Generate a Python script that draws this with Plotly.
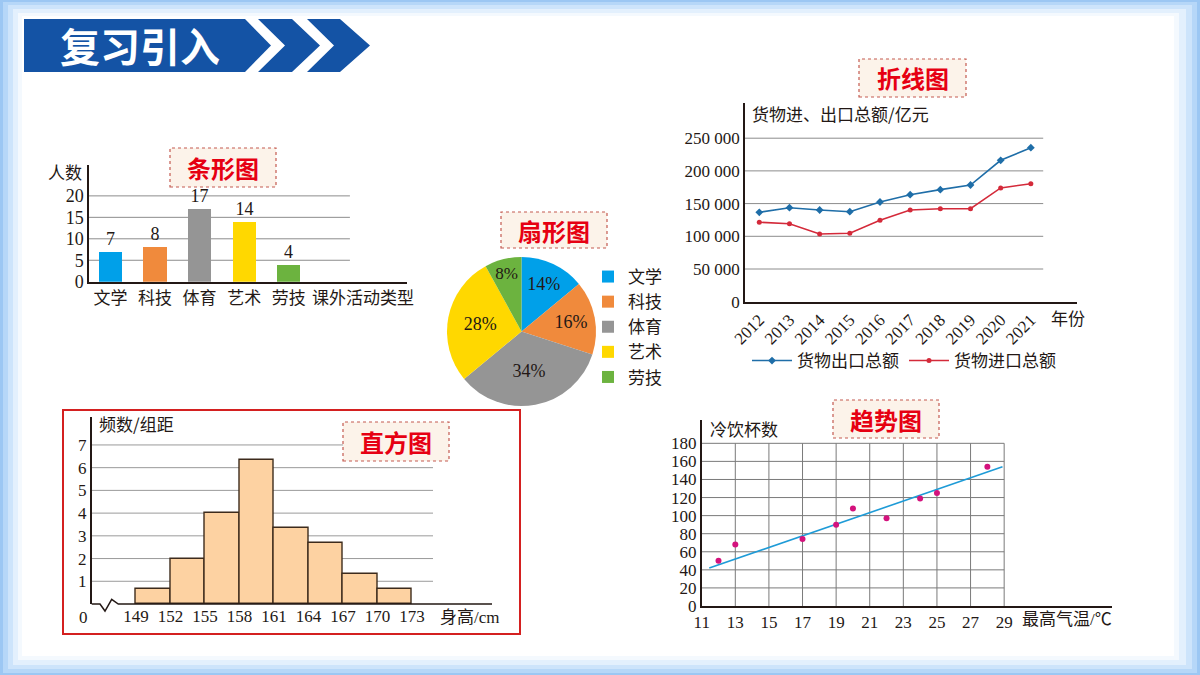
import plotly.graph_objects as go

W, H = 1200, 675


def fx(p):
    return p / W


def fy(p):
    return 1 - p / H


# ---------------- data ----------------
bar_categories = ["文学", "科技", "体育", "艺术", "劳技"]
bar_values = [7, 8, 17, 14, 4]
bar_colors = ["#00a0e9", "#f08a3c", "#959595", "#ffd800", "#6cb33f"]
bar_yticks = [0, 5, 10, 15, 20]

pie_labels = ["文学", "科技", "体育", "艺术", "劳技"]
pie_values = [14, 16, 34, 28, 8]

years = [2012, 2013, 2014, 2015, 2016, 2017, 2018, 2019, 2020, 2021]
export_values = [136700, 143700, 140200, 137600, 152400, 163600, 171300, 178400, 216200, 235500]
import_values = [121400, 119300, 103500, 104600, 124500, 140200, 142200, 142200, 173900, 180400]
line_yticks = [0, 50000, 100000, 150000, 200000, 250000]
line_yticklabels = ["0", "50 000", "100 000", "150 000", "200 000", "250 000"]

hist_edges = [149, 152, 155, 158, 161, 164, 167, 170, 173]
hist_heights = [0.67, 2, 4, 6.33, 3.33, 2.67, 1.33, 0.67]
hist_yticks = [1, 2, 3, 4, 5, 6, 7]

trend_temp = [12, 13, 17, 19, 20, 22, 24, 25, 28]
trend_cups = [50, 68, 74, 90, 108, 97, 119, 125, 154]
trend_line_x = [11.45, 28.9]
trend_line_y = [42, 154]
trend_xticks = [11, 13, 15, 17, 19, 21, 23, 25, 27, 29]
trend_yticks = [0, 20, 40, 60, 80, 100, 120, 140, 160, 180]

# ---------------- styling ----------------
SERIF = "Liberation Serif, Noto Sans CJK SC, serif"
CJK = "Noto Sans CJK SC, sans-serif"
INK = "#231815"

fig = go.Figure()

# bar chart
fig.add_trace(go.Bar(
    x=list(range(len(bar_categories))), y=bar_values, width=0.52,
    marker=dict(color=bar_colors, line=dict(width=0)),
    text=[str(v) for v in bar_values], textposition="outside",
    textfont=dict(size=18, color=INK, family=SERIF), cliponaxis=False,
    xaxis="x", yaxis="y", showlegend=False, hoverinfo="skip"))

# pie chart
fig.add_trace(go.Pie(
    labels=pie_labels, values=pie_values, sort=False, direction="clockwise", rotation=0,
    marker=dict(colors=bar_colors, line=dict(width=0)),
    textinfo="percent", textposition="inside", insidetextorientation="horizontal",
    textfont=dict(size=18, color=INK, family=SERIF),
    domain=dict(x=[fx(447), fx(596)], y=[fy(406), fy(257)]),
    legend="legend", showlegend=True, hoverinfo="skip"))

# line chart
fig.add_trace(go.Scatter(
    x=years, y=export_values, mode="lines+markers", name="货物出口总额",
    line=dict(color="#1f6ea8", width=1.6), marker=dict(symbol="diamond", size=6, color="#1f6ea8"),
    xaxis="x2", yaxis="y2", legend="legend2", hoverinfo="skip"))
fig.add_trace(go.Scatter(
    x=years, y=import_values, mode="lines+markers", name="货物进口总额",
    line=dict(color="#d42a3a", width=1.6), marker=dict(symbol="circle", size=5, color="#d42a3a"),
    xaxis="x2", yaxis="y2", legend="legend2", hoverinfo="skip"))

# histogram
hist_centers = [(a + b) / 2 for a, b in zip(hist_edges[:-1], hist_edges[1:])]
fig.add_trace(go.Bar(
    x=hist_centers, y=hist_heights, width=3,
    marker=dict(color="#fdd2a2", line=dict(color="#3d2b1c", width=1.4)),
    xaxis="x3", yaxis="y3", showlegend=False, hoverinfo="skip"))

# trend chart
fig.add_trace(go.Scatter(
    x=trend_line_x, y=trend_line_y, mode="lines",
    line=dict(color="#1e9bd7", width=1.6),
    xaxis="x4", yaxis="y4", showlegend=False, hoverinfo="skip"))
fig.add_trace(go.Scatter(
    x=trend_temp, y=trend_cups, mode="markers",
    marker=dict(color="#d4127d", size=6),
    xaxis="x4", yaxis="y4", showlegend=False, hoverinfo="skip"))

axis_common = dict(showgrid=False, zeroline=False, ticks="", showline=True, automargin=False,
                   linecolor=INK, linewidth=1.5, fixedrange=True)

fig.update_layout(
    template="none",
    width=W, height=H, margin=dict(l=0, r=0, t=0, b=0, pad=0, autoexpand=False),
    paper_bgcolor="#9cc7f3", plot_bgcolor="rgba(0,0,0,0)",
    font=dict(family=SERIF, color=INK, size=17),
    xaxis=dict(axis_common, domain=[fx(89), fx(407)], range=[-0.48, 6.65],
               tickvals=list(range(len(bar_categories))), ticktext=bar_categories,
               tickfont=dict(size=17, family=CJK), anchor="y"),
    yaxis=dict(axis_common, domain=[fy(281.7), fy(165)], range=[0, 27.2],
               tickvals=bar_yticks, tickfont=dict(size=18), anchor="x"),
    xaxis2=dict(axis_common, domain=[fx(745), fx(1077)], range=[2011.526, 2022.53],
                tickvals=years, tickangle=-45, tickfont=dict(size=17), anchor="y2"),
    yaxis2=dict(axis_common, domain=[fy(301.7), fy(103)], range=[0, 303800],
                tickvals=line_yticks, ticktext=line_yticklabels, tickfont=dict(size=17), anchor="x2"),
    xaxis3=dict(axis_common, showline=False, domain=[fx(91.7), fx(492)], range=[145.15, 179.96],
                tickvals=hist_edges, tickfont=dict(size=17), anchor="y3"),
    yaxis3=dict(axis_common, domain=[fy(604), fy(417)], range=[0, 8.23],
                tickvals=hist_yticks, tickfont=dict(size=17), anchor="x3"),
    xaxis4=dict(axis_common, domain=[fx(701.7), fx(1111.7)], range=[11, 35.4],
                tickvals=trend_xticks, tickfont=dict(size=17), anchor="y4"),
    yaxis4=dict(axis_common, domain=[fy(606), fy(420)], range=[0, 205.8],
                tickvals=trend_yticks, tickfont=dict(size=17), anchor="x4"),
    legend=dict(x=fx(588), y=fy(259), xanchor="left", yanchor="top",
                font=dict(size=17, family=CJK), bgcolor="rgba(0,0,0,0)",
                itemwidth=30, tracegroupgap=0),
    legend2=dict(orientation="h", x=fx(747), y=fy(343), xanchor="left", yanchor="top",
                 font=dict(size=17, family=CJK), bgcolor="rgba(0,0,0,0)", itemwidth=40),
    bargap=0,
)

shapes = []


def prect(x0, y0, x1, y1, **kw):
    d = dict(type="rect", xref="paper", yref="paper", x0=fx(x0), x1=fx(x1), y0=fy(y1), y1=fy(y0))
    d.update(kw)
    shapes.append(d)


def ppath(points, **kw):
    s = "M " + " L ".join(f"{fx(x):.5f},{fy(y):.5f}" for x, y in points) + " Z"
    d = dict(type="path", xref="paper", yref="paper", path=s)
    d.update(kw)
    shapes.append(d)


# slide background frame
prect(3, 2, 1197, 673, fillcolor="#b6d7f8", line=dict(width=0), layer="below")
prect(8, 5, 1192, 669, fillcolor="#cde4fb", line=dict(width=0), layer="below")
prect(13, 9, 1186, 665, fillcolor="#e3f0fd", line=dict(width=0), layer="below")
prect(18, 13, 1179, 660, fillcolor="#f4f9fe", line=dict(width=0), layer="below")
prect(22, 16, 1174, 656, fillcolor="#ffffff", line=dict(width=0), layer="below")

# header banner
ppath([(24, 19), (245, 19), (271, 45.5), (245, 72), (24, 72)], fillcolor="#1453a5", line=dict(width=0))
ppath([(258, 19), (292, 19), (320, 45.5), (292, 72), (258, 72), (285, 45.5)], fillcolor="#1453a5", line=dict(width=0))
ppath([(307, 19), (340, 19), (370, 45.5), (340, 72), (307, 72), (334, 45.5)], fillcolor="#1453a5", line=dict(width=0))

# grid lines
for v in bar_yticks[1:]:
    shapes.append(dict(type="line", xref="x", yref="y", x0=-0.48, x1=5.37, y0=v, y1=v,
                       line=dict(color="#8c8c8c", width=1), layer="below"))
for v in line_yticks[1:]:
    shapes.append(dict(type="line", xref="x2", yref="y2", x0=2011.526, x1=2021.41, y0=v, y1=v,
                       line=dict(color="#8c8c8c", width=1), layer="below"))
for v in hist_yticks:
    shapes.append(dict(type="line", xref="x3", yref="y3", x0=145.15, x1=174.83, y0=v, y1=v,
                       line=dict(color="#9a9a9a", width=1), layer="below"))
for v in trend_yticks[1:]:
    shapes.append(dict(type="line", xref="x4", yref="y4", x0=11, x1=29, y0=v, y1=v,
                       line=dict(color="#7a7a7a", width=1), layer="below"))
for v in trend_xticks[1:]:
    shapes.append(dict(type="line", xref="x4", yref="y4", x0=v, x1=v, y0=0, y1=180,
                       line=dict(color="#7a7a7a", width=1), layer="below"))

# histogram x axis with break mark
shapes.append(dict(type="path", xref="paper", yref="paper",
                   path="M " + " L ".join(f"{fx(x):.5f},{fy(y):.5f}" for x, y in
                                          [(91.7, 604), (100, 604), (105, 611), (111.7, 599.3), (118.3, 604), (492, 604)]),
                   line=dict(color=INK, width=1.5)))

# histogram red frame
prect(63, 410, 520, 634, line=dict(color="#d42020", width=2), fillcolor="rgba(0,0,0,0)")

annotations = []


def title_box(x0, y0, x1, y1, text):
    prect(x0, y0, x1, y1, fillcolor="#fcf3ea", line=dict(color="#c45a50", width=1.2, dash="dot"))
    annotations.append(dict(x=fx((x0 + x1) / 2), y=fy((y0 + y1) / 2), xref="paper", yref="paper",
                            text=f"<b>{text}</b>", showarrow=False, xanchor="center", yanchor="middle",
                            font=dict(size=24, color="#e60012", family=CJK)))


title_box(170, 148, 276, 187, "条形图")
title_box(501, 212, 607, 248, "扇形图")
title_box(859, 59, 966, 97, "折线图")
title_box(343, 422, 449, 461, "直方图")
title_box(833, 400, 939, 438, "趋势图")


def label(x, y, text, size=17, anchor="left", family=CJK, color=INK):
    annotations.append(dict(x=fx(x), y=fy(y), xref="paper", yref="paper", text=text,
                            showarrow=False, xanchor=anchor, yanchor="middle",
                            font=dict(size=size, family=family, color=color)))


label(140, 45, "<b>复习引入</b>", size=40, anchor="center", color="#ffffff")
label(46, 171, "人数")
label(310, 296, "课外活动类型")
label(750, 113, "货物进、出口总额/亿元")
label(1049, 317, "年份")
label(97, 423, "频数/组距")
label(438, 617, "身高/cm", family=SERIF)
label(83, 617, "0", anchor="center", family=SERIF)
label(708, 428, "冷饮杯数")
label(1020, 619, "最高气温/℃", family=SERIF)

fig.update_layout(shapes=shapes, annotations=annotations)

fig.write_html("out.html", config={"displayModeBar": False},
               post_script="document.body.style.margin='0';document.body.style.overflow='hidden';")
